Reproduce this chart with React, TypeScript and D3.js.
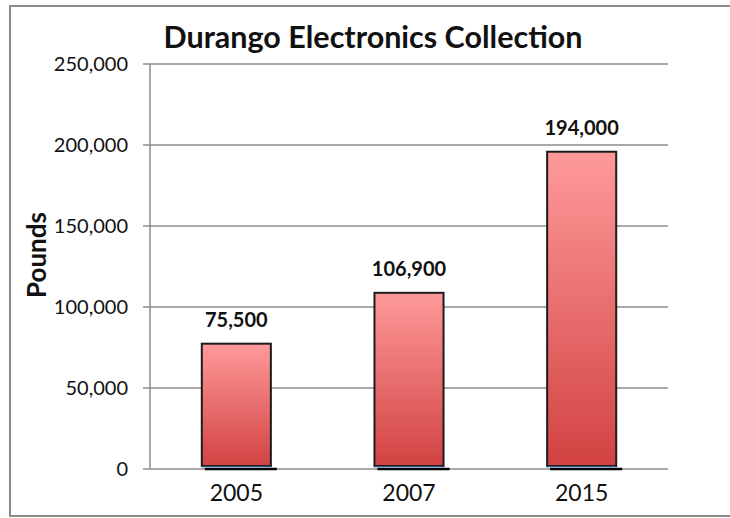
import React, { useEffect } from 'react';
import * as d3 from 'd3';

const years = ['2005', '2007', '2015'];
const pounds = [75500, 106900, 194000];
const yTicks = [0, 50000, 100000, 150000, 200000, 250000];

const W = 730;
const H = 518;
const margin = { top: 64, right: 62, bottom: 49, left: 150 };
const FONT = 'Lato, "Open Sans", sans-serif';

export default function App() {
  useEffect(() => {
    document.body.style.margin = '0';
    document.documentElement.style.overflow = 'hidden';
  }, []);

  const x = d3.scaleBand<string>()
    .domain(years)
    .range([margin.left, W - margin.right])
    .paddingInner(0.6)
    .paddingOuter(0.3);

  const y = d3.scaleLinear()
    .domain([0, 250000])
    .range([H - margin.bottom, margin.top]);

  const fmt = d3.format(',');
  const lift = 3; // bars sit a little above the baseline, with a shadow under them

  return (
    <svg width={W} height={H} style={{ position: 'absolute', left: 0, top: 0, display: 'block', background: '#fff' }}>
      <defs>
        <linearGradient id="barFill" x1="0" y1="0" x2="0" y2="1">
          <stop offset="0%" stopColor="#ff9a9a" />
          <stop offset="100%" stopColor="#d24242" />
        </linearGradient>
      </defs>

      {/* outer chart frame: the right edge runs off the picture */}
      <path d={`M${W},6 H10 V516 H${W}`} fill="none" stroke="#8a8a8a" strokeWidth={2} />

      {/* gridlines and ticks */}
      {yTicks.map(t => (
        <g key={t}>
          <line x1={margin.left - 7} x2={W - margin.right} y1={y(t)} y2={y(t)} stroke="#8c8c8c" strokeWidth={1.5} />
          <text x={margin.left - 22} y={y(t)} dy="0.35em" textAnchor="end"
            fontFamily={FONT} fontSize={20} fill="#111">{fmt(t)}</text>
        </g>
      ))}
      <line x1={margin.left} x2={margin.left} y1={y(250000)} y2={y(0)} stroke="#8c8c8c" strokeWidth={1.5} />

      {/* bars */}
      {years.map((yr, i) => {
        const x0 = x(yr)!;
        const bw = x.bandwidth();
        const top = y(pounds[i]) - lift;
        const h = y(0) - y(pounds[i]);
        return (
          <g key={yr}>
            <line x1={x0 + 3} x2={x0 + bw + 6} y1={y(0)} y2={y(0)} stroke="#000" strokeWidth={2.5} />
            <rect x={x0} y={top} width={bw} height={h} fill="url(#barFill)" stroke="#1c1c1c" strokeWidth={2} />
            <line x1={x0} x2={x0 + bw} y1={top + h + 1} y2={top + h + 1} stroke="#5b8fd0" strokeWidth={1} />
            <text x={x0 + bw / 2} y={top - 17} textAnchor="middle"
              fontFamily={FONT} fontSize={20} fontWeight="bold" fill="#111">{fmt(pounds[i])}</text>
            <text x={x0 + bw / 2} y={y(0) + 32} textAnchor="middle"
              fontFamily={FONT} fontSize={23} fill="#111">{yr}</text>
          </g>
        );
      })}

      {/* title */}
      <text x={373} y={48} textAnchor="middle" fontFamily={FONT} fontSize={30.5} fontWeight="bold" fill="#111">
        Durango Electronics Collection
      </text>

      {/* y axis label */}
      <text transform={`translate(46,255) rotate(-90)`} textAnchor="middle"
        fontFamily={FONT} fontSize={26} fontWeight="bold" fill="#111">Pounds</text>
    </svg>
  );
}
